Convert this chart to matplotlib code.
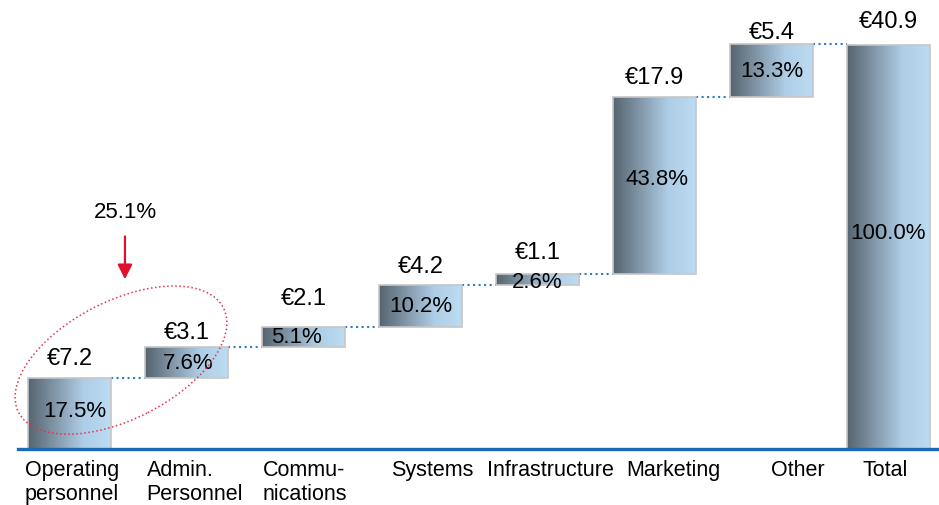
import numpy as np
import matplotlib
matplotlib.use('Agg')
import matplotlib.pyplot as plt
from matplotlib.colors import LinearSegmentedColormap
from matplotlib.patches import Ellipse
from matplotlib.transforms import IdentityTransform

plt.rcParams['font.family'] = ['Liberation Sans', 'DejaVu Sans']

# data
categories = ['Operating\npersonnel', 'Admin.\nPersonnel', 'Commu-\nnications', 'Systems',
              'Infrastructure', 'Marketing', 'Other', 'Total']
values = [7.2, 3.1, 2.1, 4.2, 1.1, 17.9, 5.4, 40.9]
shares = ['17.5%', '7.6%', '5.1%', '10.2%', '2.6%', '43.8%', '13.3%', '100.0%']
highlight = '25.1%'

# layout helpers (pixels)
label_dx = [-0.38, -0.34, -0.35, -0.25, -0.43, -0.24, 0.0, -0.22]
value_gap = [20, 15, 29, 19, 22, 20, 12, 24]
share_dx = [5, 2, -7, 0, 0, 2, 0, 0]
share_dy = [3, 0, 0, 0, -2, 7, 0, 14]

bottoms = list(np.concatenate([[0], np.cumsum(values[:-2])])) + [0]
tops = [b + v for b, v in zip(bottoms, values)]
x = np.arange(len(values))
w = 83 / 117

fig = plt.figure(figsize=(9.39, 5.06), dpi=100)
ax = fig.add_axes([0, 56 / 506, 1, 450 / 506])

cmap = LinearSegmentedColormap.from_list('bar', ['#55646f', '#8398aa', '#aecde6', '#bcdcf3'])
grad = np.linspace(0, 1, 256).reshape(1, -1)

bars = ax.bar(x, values, width=w, bottom=bottoms, facecolor='none',
              edgecolor='#c6c6c6', linewidth=1.2, zorder=3)
for i, b in enumerate(bars):
    im = ax.imshow(grad, cmap=cmap, aspect='auto', zorder=2,
                   extent=(x[i] - w / 2, x[i] + w / 2, bottoms[i], tops[i]))
    im.set_clip_path(b)

# connectors
for i in range(len(values) - 1):
    ax.plot([x[i] + w / 2, x[i + 1] - w / 2], [tops[i], tops[i]], ls=':',
            color='#2f7bc0', lw=1.5, zorder=1)

ax.set_xlim(-69.5 / 117, (939 - 69.5) / 117)
ax.set_ylim(0, 450 / 9.878)
ax.axis('off')

ax.axhline(0, xmin=18 / 939, xmax=1, color='#1a6bb5', lw=2.4, clip_on=False, zorder=4)

for i in range(len(values)):
    ax.annotate('€' + str(values[i]), (x[i], tops[i]), xytext=(0, value_gap[i]),
                textcoords='offset pixels', ha='center', va='center', fontsize=17)
    ax.annotate(shares[i], (x[i], (bottoms[i] + tops[i]) / 2), xytext=(share_dx[i], share_dy[i]),
                textcoords='offset pixels', ha='center', va='center', fontsize=16, zorder=5)
    ax.text(x[i] + label_dx[i], -1.0, categories[i], ha='left', va='top',
            fontsize=15.5, linespacing=1.2)

# highlight of first two categories
ax.annotate('', xy=(0.474, 16.9), xytext=(0.474, 21.8),
            arrowprops=dict(arrowstyle='-|>', color='#e0102f', lw=1.6, mutation_scale=22))
ax.text(0.474, 24.0, highlight, ha='center', va='center', fontsize=16)

cx, cy = ax.transData.transform((0.44, 9.0))
ax.add_patch(Ellipse((cx, cy), 230, 118, angle=27, transform=IdentityTransform(),
                     fill=False, ls=':', lw=1.1, edgecolor='#e8304f', zorder=6))

fig.savefig('out.png', dpi=100)
